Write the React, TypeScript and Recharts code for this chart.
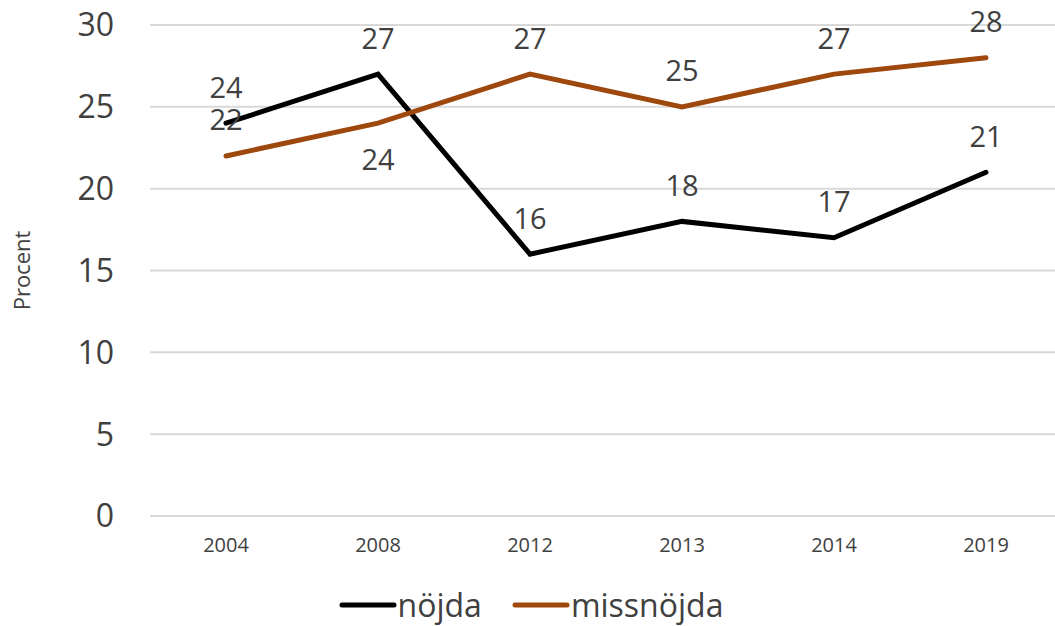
import React from "react";
import {
    LineChart,
    Line,
    XAxis,
    YAxis,
    CartesianGrid,
    Legend,
    LabelList,
} from "recharts";

const years = ["2004", "2008", "2012", "2013", "2014", "2019"];
const nojda = [24, 27, 16, 18, 17, 21];
const missnojda = [22, 24, 27, 25, 27, 28];
// where each missnöjda label sits relative to its point
const missLabelPos = ["top", "bottom", "top", "top", "top", "top"];
const yTicks = [0, 5, 10, 15, 20, 25, 30];

const data = years.map((y, i) => ({
    year: y,
    nojda: nojda[i],
    missnojda: missnojda[i],
}));

const FONT = "'Open Sans', 'DejaVu Sans', sans-serif";
const TEXT = "#404040";

const makeLabel = (positions?: string[]) => (props: any) => {
    const {x, y, value, index} = props;
    const below = positions && positions[index] === "bottom";
    return (
        <text
            x={x}
            y={below ? y + 35 : y - 37}
            textAnchor="middle"
            dominantBaseline="central"
            fontSize={29}
            fill={TEXT}
            fontFamily={FONT}
        >
            {value}
        </text>
    );
};

const legendItems = [
    {name: "nöjda", color: "#000000"},
    {name: "missnöjda", color: "#9E480E"},
];

function LegendContent() {
    return (
        <div style={{display: "flex", justifyContent: "center", alignItems: "center", fontFamily: FONT, fontSize: 32, color: TEXT, lineHeight: "40px"}}>
            {legendItems.map((it, i) => (
                <div key={it.name} style={{display: "flex", alignItems: "center", marginLeft: i ? 30 : 0}}>
                    <svg width={58} height={10}>
                        <line x1={3} y1={5} x2={55} y2={5} stroke={it.color} strokeWidth={5} strokeLinecap="round"/>
                    </svg>
                    <span style={{marginLeft: 1}}>{it.name}</span>
                </div>
            ))}
        </div>
    );
}

const YLabel = (props: any) => {
    const {viewBox} = props;
    const cy = viewBox.y + viewBox.height / 2;
    return (
        <text
            x={21}
            y={cy}
            transform={`rotate(-90 21 ${cy})`}
            textAnchor="middle"
            dominantBaseline="central"
            fontSize={22}
            fill={TEXT}
            fontFamily={FONT}
        >
            Procent
        </text>
    );
};

export default function App() {
    return (
        <div style={{position: "absolute", left: 0, top: 0, width: 1055, height: 626, overflow: "hidden", background: "#fff"}}>
            <LineChart
                width={1062}
                height={626}
                data={data}
                margin={{top: 25, right: 0, left: 0, bottom: 0}}
            >
                <CartesianGrid vertical={false} stroke="#D9D9D9" strokeWidth={2}/>
                <XAxis
                    dataKey="year"
                    height={60}
                    padding={{left: 76, right: 76}}
                    tickLine={false}
                    axisLine={false}
                    tickMargin={16}
                    tick={{fontSize: 20, fill: TEXT, fontFamily: FONT}}
                />
                <YAxis
                    width={150}
                    domain={[0, 30]}
                    ticks={yTicks}
                    tickLine={false}
                    axisLine={false}
                    tickMargin={30}
                    tick={{fontSize: 32, fill: TEXT, fontFamily: FONT}}
                    label={<YLabel/>}
                />
                <Legend
                    verticalAlign="bottom"
                    height={50}
                    content={<LegendContent/>}
                    wrapperStyle={{bottom: -9, left: 0, width: 1062}}
                />
                <Line
                    dataKey="nojda"
                    name="nöjda"
                    stroke="#000000"
                    strokeWidth={5}
                    dot={false}
                    strokeLinecap="round"
                    isAnimationActive={false}
                >
                    <LabelList dataKey="nojda" content={makeLabel()}/>
                </Line>
                <Line
                    dataKey="missnojda"
                    name="missnöjda"
                    stroke="#9E480E"
                    strokeWidth={5}
                    dot={false}
                    strokeLinecap="round"
                    isAnimationActive={false}
                >
                    <LabelList dataKey="missnojda" content={makeLabel(missLabelPos)}/>
                </Line>
            </LineChart>
        </div>
    );
}
